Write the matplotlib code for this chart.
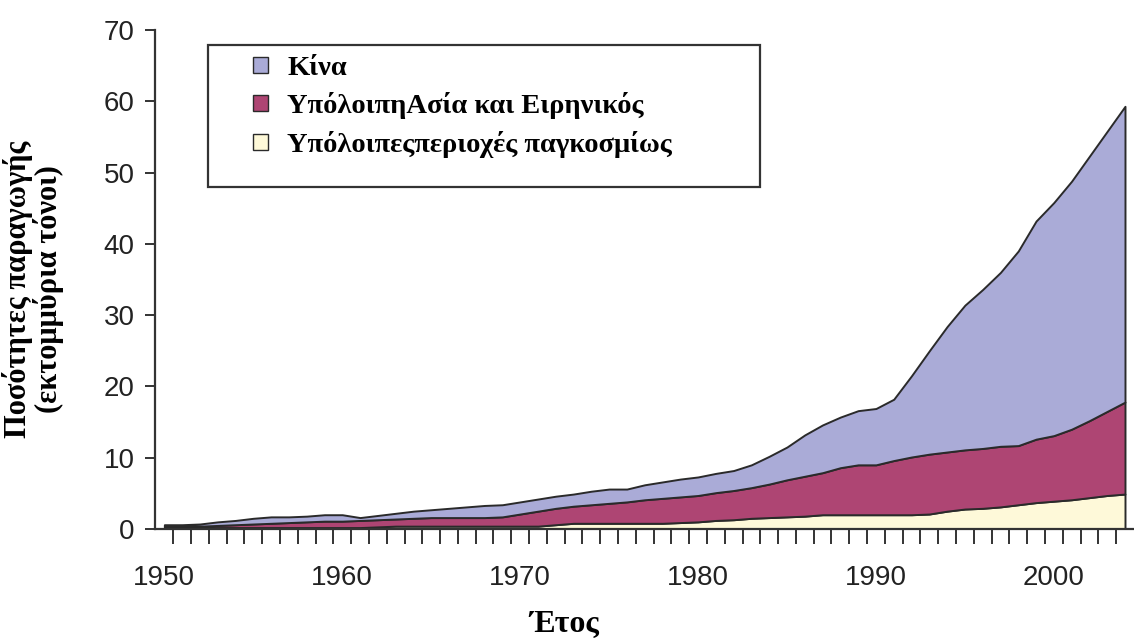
import matplotlib
matplotlib.use('Agg')
import numpy as np
import matplotlib.pyplot as plt
from matplotlib.patches import Patch, Rectangle
from matplotlib.ticker import MultipleLocator

# -----------------------------
# Data (million tonnes)
# -----------------------------
years = list(range(1950, 2005))

china = [0.2, 0.2, 0.3, 0.5, 0.6, 0.8, 0.9, 0.8, 0.8, 0.9,
         0.9, 0.4, 0.6, 0.8, 1.0, 1.1, 1.3, 1.5, 1.7, 1.7,
         1.7, 1.7, 1.7, 1.7, 1.9, 2.0, 1.8, 2.1, 2.3, 2.5,
         2.6, 2.7, 2.8, 3.2, 3.9, 4.6, 5.8, 6.7, 7.1, 7.6,
         7.9, 8.6, 11.4, 14.5, 17.6, 20.3, 22.3, 24.4, 27.3, 30.6,
         32.7, 34.8, 37.1, 39.3, 41.5]

rest_asia = [0.2, 0.2, 0.2, 0.3, 0.4, 0.5, 0.6, 0.7, 0.8, 0.9,
             0.9, 1.0, 1.0, 1.0, 1.1, 1.2, 1.2, 1.2, 1.2, 1.3,
             1.7, 2.1, 2.3, 2.4, 2.6, 2.8, 3.0, 3.3, 3.5, 3.6,
             3.7, 3.9, 4.1, 4.3, 4.7, 5.2, 5.6, 5.9, 6.6, 7.0,
             7.0, 7.6, 8.1, 8.4, 8.3, 8.3, 8.4, 8.5, 8.3, 8.9,
             9.2, 9.9, 10.8, 11.8, 12.9]

rest_world = [0.2, 0.2, 0.2, 0.2, 0.2, 0.2, 0.2, 0.2, 0.2, 0.2,
              0.2, 0.2, 0.3, 0.4, 0.4, 0.4, 0.4, 0.4, 0.4, 0.4,
              0.4, 0.4, 0.6, 0.8, 0.8, 0.8, 0.8, 0.8, 0.8, 0.9,
              1.0, 1.2, 1.3, 1.5, 1.6, 1.7, 1.8, 2.0, 2.0, 2.0,
              2.0, 2.0, 2.0, 2.1, 2.5, 2.8, 2.9, 3.1, 3.4, 3.7,
              3.9, 4.1, 4.4, 4.7, 4.9]

labels = ['Κίνα', 'ΥπόλοιπηΑσία και Ειρηνικός', 'Υπόλοιπεςπεριοχές παγκοσμίως']
label_years = [1950, 1960, 1970, 1980, 1990, 2000]

c_china = '#AAABD7'
c_asia = '#AE4573'
c_world = '#FEF9D9'
edge = '#2a2a2a'

# -----------------------------
# Figure
# -----------------------------
fig = plt.figure(figsize=(11.34, 6.44), dpi=100)
ax = fig.add_axes([0.1371, 0.1786, 0.8628, 0.7748])

ax.stackplot(years, rest_world, rest_asia, china,
             colors=[c_world, c_asia, c_china],
             edgecolor=edge, linewidth=1.4)

ax.set_xlim(1949.5, 2004.5)
ax.set_ylim(0, 70)

for s in ['top', 'right']:
    ax.spines[s].set_visible(False)
for s in ['left', 'bottom']:
    ax.spines[s].set_color('#333333')
    ax.spines[s].set_linewidth(1.6)

ax.yaxis.set_major_locator(MultipleLocator(10))
ax.tick_params(axis='y', direction='out', length=7, width=1.4, color='#333333',
               labelsize=20, labelcolor='#222222', pad=8)

ax.set_xticks(label_years)
ax.set_xticklabels([str(y) for y in label_years])
ax.set_xticks(np.arange(1950.5, 2004.5, 1.0), minor=True)
ax.tick_params(axis='x', which='major', length=0, labelsize=20,
               labelcolor='#222222', pad=26)
ax.tick_params(axis='x', which='minor', direction='out', length=11,
               width=1.4, color='#333333')

for t in ax.get_xticklabels() + ax.get_yticklabels():
    t.set_family('Liberation Sans')

# axis titles
ax.set_ylabel('Ποσότητες παραγωγής\n(εκτομμύρια τόνοι)', family='Liberation Serif',
              fontweight='bold', fontsize=22, linespacing=1.0)
ax.yaxis.set_label_coords(-0.094, 0.48)
fig.text(564 / 1134, 1 - 624 / 644, 'Έτος', family='Liberation Serif',
         fontweight='bold', fontsize=23, ha='center', va='center')

# legend
handles = [Patch(facecolor=c, edgecolor=edge, linewidth=1.0)
           for c in [c_china, c_asia, c_world]]
leg = ax.legend(handles, labels, loc='upper left',
                bbox_to_anchor=(0.1, 0.948), frameon=False,
                prop={'family': 'Liberation Serif', 'weight': 'bold', 'size': 20.5},
                handlelength=0.5, handleheight=0.5, handletextpad=0.7,
                labelspacing=0.4, borderaxespad=0, borderpad=0)
ax.add_patch(Rectangle((0.0537, 0.685), 0.5643, 0.285, transform=ax.transAxes,
                       fill=False, edgecolor='#333333', linewidth=1.6,
                       clip_on=False, zorder=5))

plt.savefig('out.png', dpi=100)
plt.close()
